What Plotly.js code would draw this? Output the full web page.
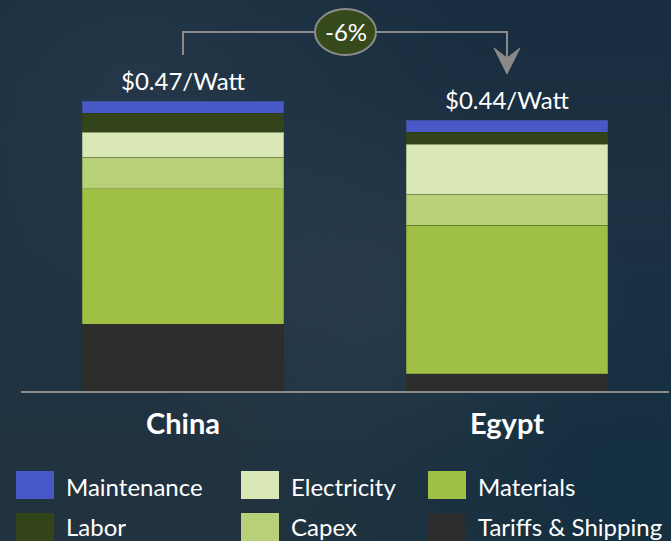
<!DOCTYPE html>
<html>
<head>
<meta charset="utf-8">
<script src="https://cdn.plot.ly/plotly-3.0.1.min.js"></script>
<style>
  html, body { margin: 0; padding: 0; }
  body {
    width: 671px; height: 541px; overflow: hidden;
    background:
      radial-gradient(ellipse at 20% 15%, rgba(60,75,90,0.30) 0%, rgba(0,0,0,0) 45%),
      radial-gradient(ellipse at 55% 55%, rgba(70,80,90,0.28) 0%, rgba(0,0,0,0) 50%),
      radial-gradient(ellipse at 95% 90%, rgba(10,45,65,0.6) 0%, rgba(0,0,0,0) 45%),
      linear-gradient(180deg, #182d3f 0%, #1e3243 50%, #22333f 100%);
  }
  #chart { width: 671px; height: 541px; }
</style>
</head>
<body>
<div id="chart"></div>
<script>
// ---- data ----
const categories = ["China", "Egypt"];
const seriesNames = ["Tariffs & Shipping", "Materials", "Capex", "Electricity", "Labor", "Maintenance"];
const tariffs     = [0.108, 0.028];
const materials   = [0.220, 0.241];
const capex       = [0.051, 0.050];
const electricity = [0.040, 0.081];
const labor       = [0.031, 0.019];
const maintenance = [0.020, 0.020];
const totalLabels = ["$0.47/Watt", "$0.44/Watt"];
const changeLabel = "-6%";
const legendOrder = ["Maintenance", "Labor", "Electricity", "Capex", "Materials", "Tariffs & Shipping"];

// ---- styles ----
const colors = {
  "Tariffs & Shipping": "#2d2d2d",
  "Materials": "#9fbf45",
  "Capex": "#b8d078",
  "Electricity": "#dae8b6",
  "Labor": "#33441a",
  "Maintenance": "#4858c6"
};
const W = 671, H = 541;
const px = x => x / W;
const py = y => 1 - y / H;
const FONT = "Lato, 'Open Sans', sans-serif";

const values = [tariffs, materials, capex, electricity, labor, maintenance];
const traces = seriesNames.map((name, i) => ({
  type: "bar",
  name: name,
  x: categories,
  y: values[i],
  marker: { color: colors[name], line: { color: "rgba(40,50,25,0.25)", width: 1 } },
  hoverinfo: "skip",
  showlegend: false
}));

const totals = categories.map((c, j) => values.reduce((s, arr) => s + arr[j], 0));

const annotations = [];
const shapes = [];

// total labels
categories.forEach((c, j) => {
  annotations.push({
    x: c, y: totals[j], xref: "x", yref: "y",
    text: totalLabels[j], showarrow: false,
    yanchor: "bottom", yshift: 4,
    font: { family: FONT, size: 24, color: "#ffffff" }
  });
});

// connector with arrow
shapes.push({
  type: "path", xref: "paper", yref: "paper",
  path: `M ${px(183)},${py(55)} L ${px(183)},${py(32)} L ${px(507)},${py(32)} L ${px(507)},${py(62)}`,
  line: { color: "#8a8a8a", width: 2 }
});
shapes.push({
  type: "path", xref: "paper", yref: "paper",
  path: `M ${px(494)},${py(48)} L ${px(507)},${py(74)} L ${px(520)},${py(48)} L ${px(507)},${py(58)} Z`,
  fillcolor: "#8a8a8a", line: { color: "#8a8a8a", width: 1 }
});
shapes.push({
  type: "circle", xref: "paper", yref: "paper",
  x0: px(315), x1: px(376), y0: py(55), y1: py(9),
  fillcolor: "#374a1b", line: { color: "#8c8c8c", width: 2 }
});
annotations.push({
  x: px(345.5), y: py(32), xref: "paper", yref: "paper",
  text: changeLabel, showarrow: false, xanchor: "center", yanchor: "middle",
  font: { family: FONT, size: 24, color: "#ffffff" }
});

// custom legend
const colX = [16, 241, 428];
const rowY = [471, 513];
legendOrder.forEach((name, i) => {
  const col = Math.floor(i / 2), row = i % 2;
  const x0 = colX[col], y0 = rowY[row];
  shapes.push({
    type: "rect", xref: "paper", yref: "paper",
    x0: px(x0), x1: px(x0 + 38), y0: py(y0 + 28), y1: py(y0),
    fillcolor: colors[name], line: { width: 0 }
  });
  annotations.push({
    x: px(x0 + 48), y: py(y0 + (row === 0 ? 15 : 13)), xref: "paper", yref: "paper",
    text: name.replace("&", "&amp;"), showarrow: false, xanchor: "left", yanchor: "middle",
    font: { family: FONT, size: 24, color: "#ffffff" }
  });
});

const layout = {
  width: W, height: H,
  margin: { l: 0, r: 0, t: 0, b: 0 },
  paper_bgcolor: "rgba(0,0,0,0)",
  plot_bgcolor: "rgba(0,0,0,0)",
  barmode: "stack",
  bargap: 0.377,
  showlegend: false,
  xaxis: {
    domain: [px(21), px(669)],
    type: "category",
    range: [-0.5, 1.5],
    showline: true, linecolor: "#8a8a8a", linewidth: 2,
    showgrid: false, zeroline: false, ticks: "",
    ticklabelstandoff: 6,
    tickfont: { family: FONT, size: 29, color: "#ffffff", weight: "bold" },
    automargin: false, fixedrange: true
  },
  yaxis: {
    domain: [py(391), 1],
    range: [0, 391 / 617],
    visible: false, showgrid: false, zeroline: false,
    automargin: false, fixedrange: true
  },
  shapes: shapes,
  annotations: annotations,
  font: { family: FONT, color: "#ffffff" }
};

Plotly.newPlot("chart", traces, layout, { displayModeBar: false, staticPlot: true });
</script>
</body>
</html>
